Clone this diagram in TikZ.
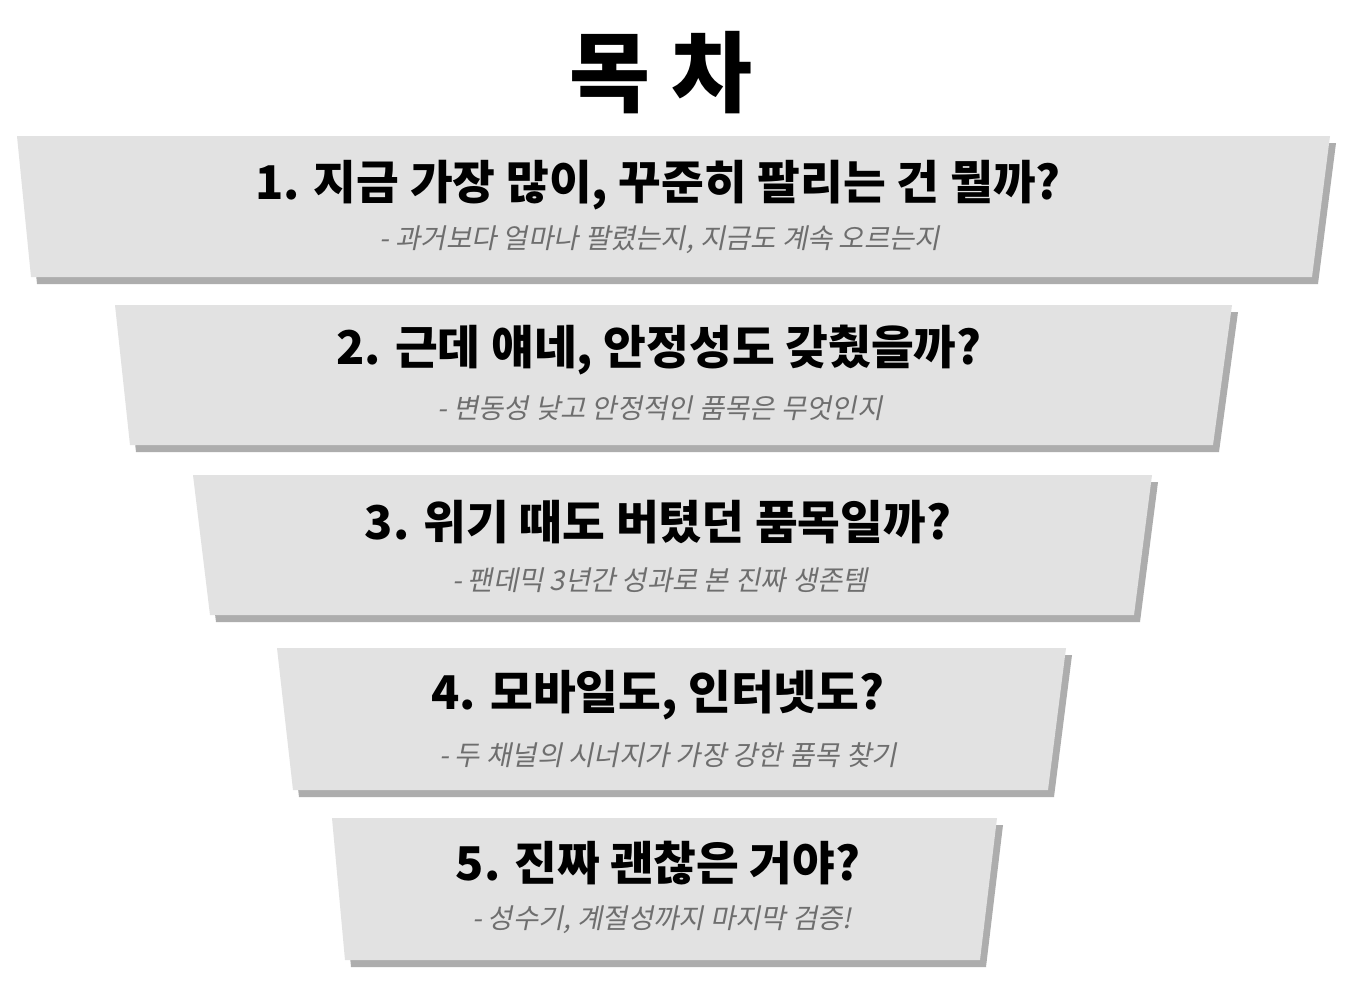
\documentclass[tikz,border=0pt]{standalone}
\usepackage{fontspec}
\setmainfont{Noto Sans CJK KR}
\newfontfamily\korschraeg[FakeSlant=0.2]{Noto Sans CJK KR}
\usetikzlibrary{shadows}
\definecolor{stufengrau}{HTML}{E2E2E2}
\definecolor{schattengrau}{HTML}{ADADAD}
\definecolor{untergrau}{HTML}{6E6E6E}
\tikzset{
  stufe/.style={fill=stufengrau, drop shadow={shadow xshift=6pt, shadow yshift=-7pt, fill=schattengrau, opacity=1}},
  haupt/.style={font=\fontsize{46.5}{50}\selectfont\bfseries, text=black, inner sep=0pt},
  unter/.style={font=\fontsize{27.5}{30}\selectfont\korschraeg, text=untergrau, inner sep=0pt},
  titel/.style={font=\fontsize{88}{92}\selectfont\bfseries, inner sep=0pt}
}

\begin{document}
\begin{tikzpicture}[x=1pt,y=-1pt]
  \useasboundingbox[fill=white] (0,0) rectangle (1361,985);
  \node[titel] (titel) at (661,73) {목 차};

  \fill[stufe] (17,136) -- (1330,136) -- (1312,277) -- (31,277) -- cycle;
  \node[haupt] (h1) at (658,185) {1. 지금 가장 많이, 꾸준히 팔리는 건 뭘까?};
  \node[unter] (u1) at (660,240) {- 과거보다 얼마나 팔렸는지, 지금도 계속 오르는지};

  \fill[stufe] (115,305) -- (1232,305) -- (1213,445) -- (130,445) -- cycle;
  \node[haupt] (h2) at (659,350) {2. 근데 얘네, 안정성도 갖췄을까?};
  \node[unter] (u2) at (660,408) {- 변동성 낮고 안정적인 품목은 무엇인지};

  \fill[stufe] (193,475) -- (1152,475) -- (1134,615) -- (210,615) -- cycle;
  \node[haupt] (h3) at (658,522) {3. 위기 때도 버텼던 품목일까?};
  \node[unter] (u3) at (660,580) {- 팬데믹 3년간 성과로 본 진짜 생존템};

  \fill[stufe] (277,648) -- (1066,648) -- (1048,790) -- (293,790) -- cycle;
  \node[haupt] (h4) at (658,695) {4. 모바일도, 인터넷도?};
  \node[unter] (u4) at (668,755) {- 두 채널의 시너지가 가장 강한 품목 찾기};

  \fill[stufe] (332,818) -- (997,818) -- (980,960) -- (345,960) -- cycle;
  \node[haupt] (h5) at (658,863) {5. 진짜 괜찮은 거야?};
  \node[unter] (u5) at (662,920) {- 성수기, 계절성까지 마지막 검증!};
\end{tikzpicture}
\end{document}
